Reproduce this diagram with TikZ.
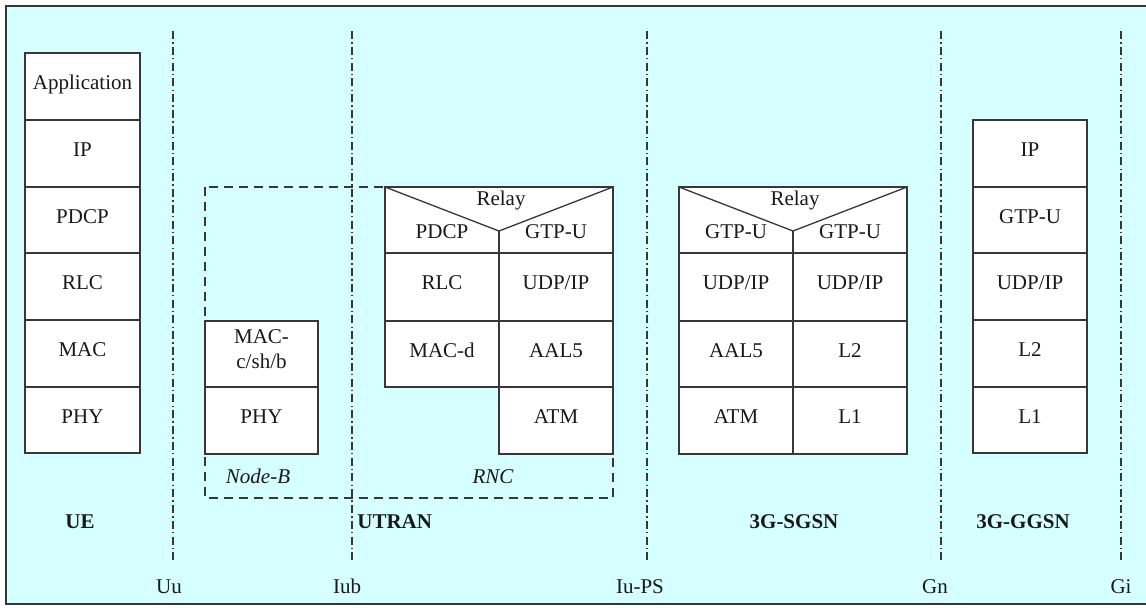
\documentclass[tikz,border=0pt]{standalone}
\usepackage{fontspec}
\setmainfont{Liberation Serif}
\definecolor{bgc}{RGB}{214,255,255}
\definecolor{ln}{RGB}{55,55,55}
\definecolor{tx}{RGB}{25,25,25}
\tikzset{
  cellbox/.style={draw=ln, line width=0.65pt, fill=white},
  celltxt/.style={font=\fontsize{10.5}{12}\selectfont, text=tx, inner sep=0pt, anchor=base},
  iface/.style={draw=ln, line width=0.85pt, dash pattern=on 4pt off 1.6pt on 0.7pt off 1.6pt},
  grp/.style={draw=ln, line width=0.85pt, dash pattern=on 4.5pt off 3pt},
  lab/.style={font=\fontsize{10.5}{12}\selectfont, text=tx, inner sep=0pt, anchor=base},
}
\newcommand\mkcell[6]{%
  \draw[cellbox] (#2,#3) rectangle (#4,#5);
  \node[celltxt] (#1) at ({(#2+#4)/2},{#3+36}) {#6};}
\begin{document}
\begin{tikzpicture}[x=0.5pt,y=-0.5pt]
\useasboundingbox (0,0) rectangle (1146,607);
\clip (0,0) rectangle (1146,607);
\fill[white] (0,0) rectangle (1146,607);
\draw[fill=bgc, draw=ln, line width=0.6pt] (6,6) rectangle (1160,604);

% interface lines
\foreach \n/\x in {uu/173, iub/352, iups/647, gn/941, gi/1121}{
  \coordinate (\n t) at (\x,31);
  \coordinate (\n b) at (\x,563);
  \draw[iface] (\n t) -- (\n b);
}

% UTRAN dashed group
\coordinate (g1) at (205,187);
\coordinate (g2) at (613,498);
\draw[grp] (g1) rectangle (g2);

% UE stack
\mkcell{ueapp}{25}{53}{140}{120}{Application}
\mkcell{ueip}{25}{120}{140}{187}{IP}
\mkcell{uepdcp}{25}{187}{140}{253}{PDCP}
\mkcell{uerlc}{25}{253}{140}{320}{RLC}
\mkcell{uemac}{25}{320}{140}{387}{MAC}
\mkcell{uephy}{25}{387}{140}{453}{PHY}

% Node-B
\draw[cellbox] (205,321) rectangle (318,387);
\node[celltxt] (nbmac1) at (261.5,343) {MAC-};
\node[celltxt] (nbmac2) at (261.5,368) {c/sh/b};
\mkcell{nbphy}{205}{387}{318}{454}{PHY}

% RNC
\draw[cellbox] (385,187) rectangle (613,253);
\coordinate (rtl) at (385,187);
\coordinate (rap) at (499,231);
\coordinate (rtr) at (613,187);
\coordinate (rbot) at (499,253);
\draw[ln, line width=0.65pt] (rtl) -- (rap) -- (rtr);
\draw[ln, line width=0.65pt] (rap) -- (rbot);
\node[celltxt] (rrelay) at (501,205) {Relay};
\node[celltxt] (rpdcp) at (442,238) {PDCP};
\node[celltxt] (rgtp) at (556,238) {GTP-U};
\mkcell{rrlc}{385}{253}{499}{321}{RLC}
\mkcell{rmac}{385}{321}{499}{387}{MAC-d}
\mkcell{rudp}{499}{253}{613}{321}{UDP/IP}
\mkcell{raal}{499}{321}{613}{387}{AAL5}
\mkcell{ratm}{499}{387}{613}{454}{ATM}

% SGSN
\draw[cellbox] (679,187) rectangle (907,253);
\coordinate (stl) at (679,187);
\coordinate (sap) at (793,231);
\coordinate (str) at (907,187);
\coordinate (sbot) at (793,253);
\draw[ln, line width=0.65pt] (stl) -- (sap) -- (str);
\draw[ln, line width=0.65pt] (sap) -- (sbot);
\node[celltxt] (srelay) at (795,205) {Relay};
\node[celltxt] (sgtp1) at (736,238) {GTP-U};
\node[celltxt] (sgtp2) at (850,238) {GTP-U};
\mkcell{sudp1}{679}{253}{793}{321}{UDP/IP}
\mkcell{saal}{679}{321}{793}{387}{AAL5}
\mkcell{satm}{679}{387}{793}{454}{ATM}
\mkcell{sudp2}{793}{253}{907}{321}{UDP/IP}
\mkcell{sl2}{793}{321}{907}{387}{L2}
\mkcell{sl1}{793}{387}{907}{454}{L1}

% GGSN
\mkcell{gip}{973}{120}{1087}{187}{IP}
\mkcell{ggtp}{973}{187}{1087}{253}{GTP-U}
\mkcell{gudp}{973}{253}{1087}{320}{UDP/IP}
\mkcell{gl2}{973}{320}{1087}{387}{L2}
\mkcell{gl1}{973}{387}{1087}{453}{L1}

% group labels
\node[lab, font=\fontsize{10.5}{12}\selectfont\itshape] (nodeb) at (258,483) {Node-B};
\node[lab, font=\fontsize{10.5}{12}\selectfont\itshape] (rnc) at (493,483) {RNC};
\node[lab, font=\fontsize{10.5}{12}\selectfont\bfseries] (ue) at (80,528) {UE};
\node[lab, font=\fontsize{10.5}{12}\selectfont\bfseries, anchor=base west] (utran) at (357,528) {UTRAN};
\node[lab, font=\fontsize{10.5}{12}\selectfont\bfseries] (sgsn) at (794,528) {3G-SGSN};
\node[lab, font=\fontsize{10.5}{12}\selectfont\bfseries] (ggsn) at (1023,528) {3G-GGSN};

% interface labels
\node[lab] (luu) at (169,593) {Uu};
\node[lab] (liub) at (347,593) {Iub};
\node[lab] (liups) at (640,593) {Iu-PS};
\node[lab] (lgn) at (935,593) {Gn};
\node[lab] (lgi) at (1121,593) {Gi};
\end{tikzpicture}
\end{document}
